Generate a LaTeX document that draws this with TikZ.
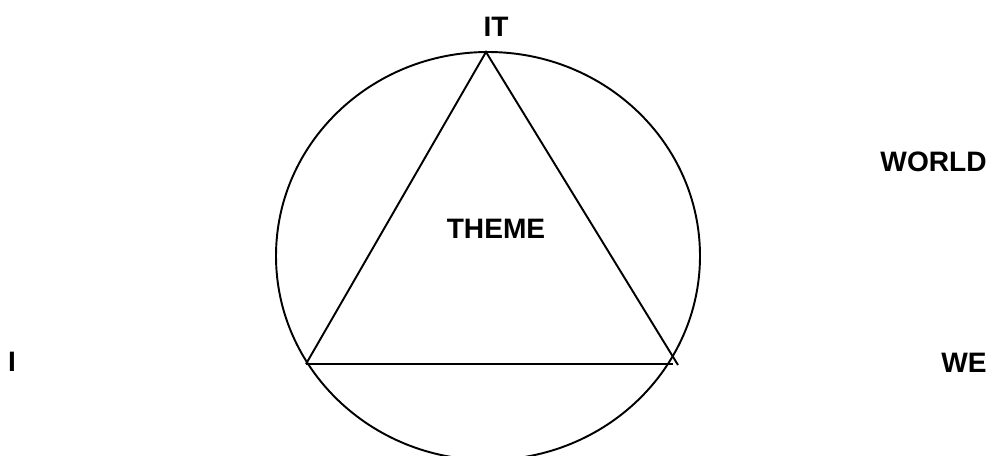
\documentclass[tikz,border=0pt]{standalone}
\usepackage{fontspec}
\setmainfont{Liberation Sans}
\usetikzlibrary{positioning}

\begin{document}
\begin{tikzpicture}[x=0.02cm,y=-0.02cm]
\tikzset{lbl/.style={font=\fontsize{16}{19}\selectfont\bfseries,inner sep=0pt},
  edge/.style={black,line width=1.1pt}}
\useasboundingbox (0,0) rectangle (990,456);
\draw[edge] (488,256) ellipse [x radius=212,y radius=204];
\coordinate (Top) at (486,52);
\coordinate (Left) at (306,364);
\coordinate (Right) at (678,365);
\coordinate (Base) at (673,364);
\draw[edge] (Left) -- (Top) -- (Right);
\draw[edge] (Left) -- (Base);
\node[lbl,anchor=center] (it) at (496,27) {IT};
\node[lbl,anchor=center] (theme) at (496,229) {THEME};
\node[lbl,anchor=east] (world) at (987,162) {WORLD};
\node[lbl,anchor=center] (i) at (12,362) {I};
\node[lbl,anchor=east] (we) at (987,363) {WE};
\end{tikzpicture}
\end{document}
